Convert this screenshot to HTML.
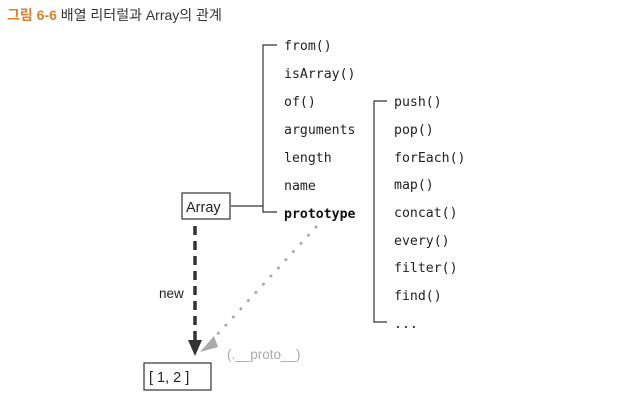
<!DOCTYPE html>
<html><head><meta charset="utf-8"><style>
html,body{margin:0;padding:0;background:#fff;width:637px;height:404px;overflow:hidden}
svg{display:block}
.m{font-family:"DejaVu Sans Mono","Liberation Mono",monospace;font-size:13.2px;fill:#222}
</style></head><body>
<svg width="637" height="404" viewBox="0 0 637 404">
<text x="7" y="20" font-family="Liberation Sans,'Noto Sans CJK KR',sans-serif" font-size="14" font-weight="bold" fill="#d9822b">그림 6-6 <tspan fill="#333" font-weight="normal">배열 리터럴과 Array의 관계</tspan></text>
<g stroke="#333" stroke-width="1.2" fill="none">
<path d="M277 45 H263 V212 H277"/>
<path d="M231 206 H263"/>
<rect x="182" y="193" width="48" height="26"/>
<path d="M387 101 H374 V322 H387"/>
<rect x="144" y="363" width="67" height="27"/>
</g>
<g class="m">
<text x="284" y="50">from()</text>
<text x="284" y="78">isArray()</text>
<text x="284" y="106">of()</text>
<text x="284" y="134">arguments</text>
<text x="284" y="162">length</text>
<text x="284" y="190">name</text>
<text x="284" y="218" font-weight="bold" fill="#111">prototype</text>
<text x="394" y="106">push()</text>
<text x="394" y="134">pop()</text>
<text x="394" y="162">forEach()</text>
<text x="394" y="189">map()</text>
<text x="394" y="217">concat()</text>
<text x="394" y="245">every()</text>
<text x="394" y="272">filter()</text>
<text x="394" y="300">find()</text>
<text x="394" y="328">...</text>
</g>
<text x="186" y="212" font-family="Liberation Sans,sans-serif" font-size="14.5" fill="#222">Array</text>
<text x="149" y="382" font-family="Liberation Sans,sans-serif" font-size="14.5" fill="#222">[ 1, 2 ]</text>
<text x="159" y="298" font-family="Liberation Sans,sans-serif" font-size="13.5" fill="#222">new</text>
<text x="227" y="359" font-family="Liberation Sans,sans-serif" font-size="13.5" fill="#aaa">(.__proto__)</text>
<line x1="195" y1="226" x2="195" y2="340" stroke="#333" stroke-width="3.5" stroke-dasharray="9,6"/>
<path d="M188 340 L195 356 L202 340 Z" fill="#333"/>
<line x1="316" y1="227" x2="214" y2="338" stroke="#aaa" stroke-width="3" stroke-dasharray="0.1,11" stroke-linecap="round"/>
<path d="M214 336 L200 352 L218 347 Z" fill="#aaa"/>
</svg>
</body></html>
